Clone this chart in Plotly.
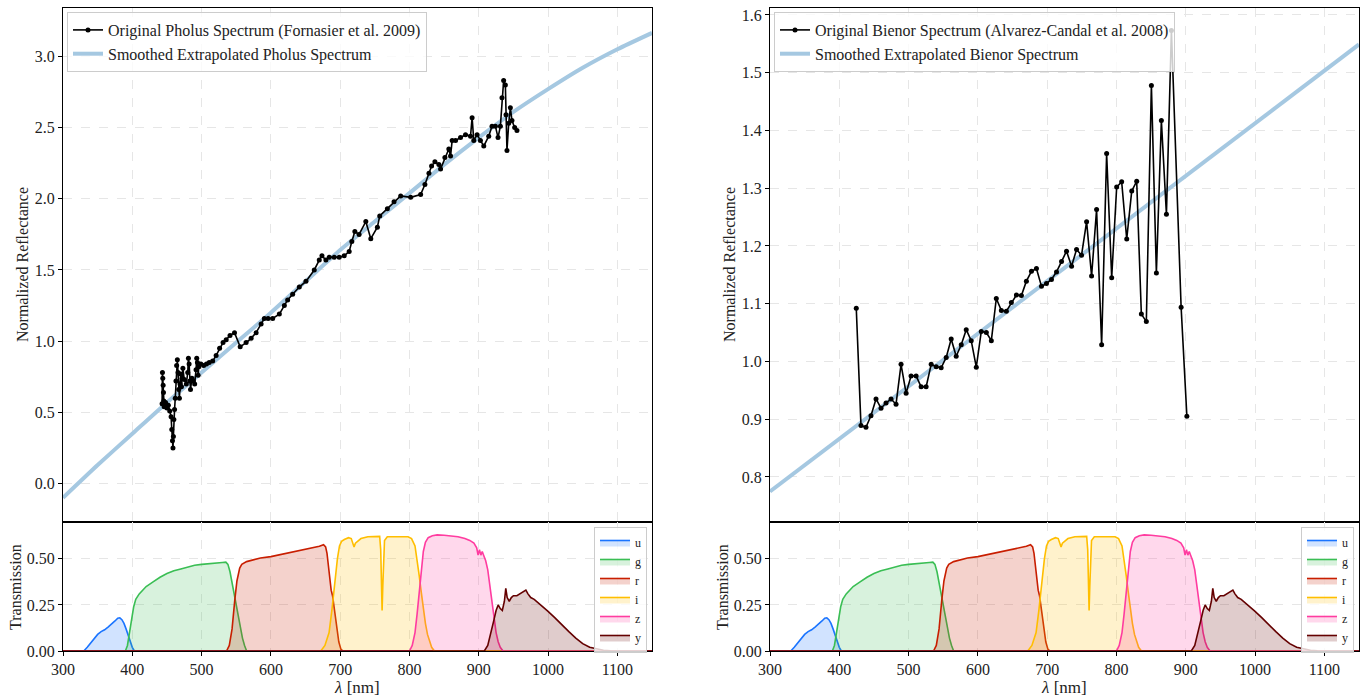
import plotly.graph_objects as go

W, H = 1369, 698

# ---------------- Pholus spectrum (Fornasier et al. 2009) ----------------
pholus_wl = [443.0, 443.5, 444.0, 444.5, 445.0, 445.5, 446.0, 448.0, 450.0, 452.0,
             454.0, 456.0, 457.0, 458.0, 458.7, 459.3, 460.0, 461.0, 462.0, 463.0,
             464.0, 465.0, 466.0, 467.0, 468.0, 469.0, 470.0, 471.0, 472.0, 473.0,
             475.0, 478.0, 480.0, 481.0, 482.0, 483.0, 484.0, 486.0, 488.0, 490.0,
             492.0, 493.0, 494.0, 495.0, 496.0, 499.0, 503.0, 507.0, 511.0, 516.0,
             521.0, 526.0, 531.0, 535.5, 541.0, 547.5, 555.7, 564.3, 571.5, 578.7,
             585.9, 590.6, 596.0, 602.6, 612.2, 619.4, 624.2, 631.4, 641.0, 650.6,
             662.6, 669.8, 673.7, 679.4, 684.2, 691.4, 698.6, 705.8, 713.0, 716.8,
             721.2, 727.3, 737.0, 744.2, 753.7, 757.1, 768.1, 777.7, 787.3, 801.7,
             816.1, 822.3, 828.1, 831.9, 836.7, 842.4, 844.9, 851.1, 856.8, 859.3,
             861.6, 866.5, 873.7, 880.9, 888.1, 890.4, 892.8, 897.6, 902.4, 907.2,
             914.4, 919.1, 924.0, 927.8, 931.2, 933.5, 935.9, 938.4, 939.3, 940.7,
             943.2, 945.6, 947.9, 951.8, 955.1]
pholus_refl = [0.56, 0.78, 0.74, 0.69, 0.64, 0.58, 0.54, 0.57, 0.53, 0.55,
               0.51, 0.47, 0.38, 0.30, 0.25, 0.33, 0.45, 0.52, 0.60, 0.72,
               0.83, 0.87, 0.78, 0.66, 0.60, 0.70, 0.77, 0.68, 0.74, 0.81,
               0.73, 0.70, 0.78, 0.88, 0.84, 0.72, 0.66, 0.74, 0.72, 0.70,
               0.80, 0.88, 0.85, 0.76, 0.82, 0.84, 0.83, 0.84, 0.85, 0.86,
               0.90, 0.95, 0.99, 1.01, 1.04, 1.06, 0.96, 0.99, 1.02, 1.06,
               1.12, 1.16, 1.16, 1.16, 1.19, 1.25, 1.29, 1.33, 1.38, 1.42,
               1.50, 1.57, 1.60, 1.57, 1.59, 1.59, 1.59, 1.60, 1.63, 1.70,
               1.77, 1.75, 1.84, 1.72, 1.80, 1.88, 1.93, 1.98, 2.02, 2.01,
               2.03, 2.10, 2.18, 2.23, 2.26, 2.24, 2.21, 2.29, 2.35, 2.30,
               2.41, 2.41, 2.43, 2.45, 2.44, 2.57, 2.41, 2.45, 2.41, 2.37,
               2.44, 2.51, 2.51, 2.43, 2.51, 2.71, 2.83, 2.80, 2.59, 2.34,
               2.53, 2.64, 2.55, 2.50, 2.48]
# smoothed spectrum with its extrapolated ends
pholus_smooth_wl = [300, 350, 400, 450, 500, 550, 600, 650, 700, 750, 800, 850, 900,
                    950, 1000, 1050, 1100, 1150]
pholus_smooth_refl = [-0.10, 0.13, 0.35, 0.57, 0.78, 0.99, 1.20, 1.42, 1.64, 1.84, 2.04,
                      2.24, 2.43, 2.61, 2.77, 2.92, 3.05, 3.165]

# ---------------- Bienor spectrum (Alvarez-Candal et al. 2008) ----------------
bienor_wl = [424.5, 431.3, 438.5, 445.7, 453.0, 460.2, 467.4, 474.7, 481.9, 489.1,
             496.4, 503.6, 510.9, 518.1, 525.3, 532.6, 539.8, 547.0, 554.3, 561.5,
             568.7, 576.0, 583.2, 590.4, 597.7, 604.9, 612.2, 619.4, 626.6, 633.9,
             641.1, 648.3, 655.6, 662.8, 670.0, 677.3, 684.5, 691.8, 699.0, 706.2,
             713.5, 720.7, 727.9, 735.2, 742.4, 749.6, 756.9, 764.1, 771.3, 778.6,
             785.8, 793.1, 800.3, 807.5, 814.8, 822.0, 829.2, 835.9, 843.1, 850.4,
             857.6, 864.8, 872.1, 879.3, 893.3, 901.6]
bienor_refl = [1.092, 0.889, 0.886, 0.906, 0.935, 0.919, 0.928, 0.935, 0.926, 0.995,
               0.945, 0.975, 0.975, 0.956, 0.956, 0.995, 0.991, 0.989, 1.007, 1.039,
               1.009, 1.029, 1.055, 1.036, 0.990, 1.052, 1.050, 1.036, 1.109, 1.088,
               1.087, 1.102, 1.115, 1.114, 1.139, 1.156, 1.161, 1.130, 1.135, 1.142,
               1.155, 1.173, 1.191, 1.165, 1.194, 1.184, 1.242, 1.148, 1.263, 1.029,
               1.360, 1.145, 1.302, 1.311, 1.212, 1.295, 1.312, 1.082, 1.069, 1.478,
               1.153, 1.417, 1.255, 1.573, 1.094, 0.905]
bienor_smooth_wl = [300, 1150]
bienor_smooth_refl = [0.775, 1.549]

# ---------------- LSST filter transmission curves ----------------
filter_names = ["u", "g", "r", "i", "z", "y"]
u_wl = [300, 330, 335, 340, 345, 350, 355, 360, 365, 370, 375, 379, 382, 385, 388,
        391, 394, 397, 400, 403, 1150]
u_t = [0, 0, 0.02, 0.045, 0.07, 0.09, 0.105, 0.115, 0.13, 0.145, 0.163, 0.178, 0.18,
       0.17, 0.15, 0.12, 0.085, 0.05, 0.02, 0.0, 0]
g_wl = [300, 390, 393, 396, 399, 402, 405, 410, 415, 420, 430, 440, 450, 460, 470,
        480, 490, 500, 510, 520, 530, 535, 538, 541, 544, 547, 550, 553, 556, 559,
        562, 565, 1150]
g_t = [0, 0, 0.03, 0.09, 0.17, 0.24, 0.28, 0.31, 0.33, 0.35, 0.375, 0.40, 0.42, 0.435,
       0.445, 0.455, 0.465, 0.47, 0.472, 0.476, 0.48, 0.482, 0.47, 0.43, 0.37, 0.30,
       0.23, 0.17, 0.12, 0.07, 0.03, 0.0, 0]
r_wl = [300, 536, 540, 544, 548, 551, 555, 558, 565, 575, 585, 600, 610, 620, 630,
        640, 650, 660, 670, 676, 679, 681, 683, 685, 687, 689, 691, 693, 695, 698,
        701, 704, 1150]
r_t = [0, 0, 0.03, 0.12, 0.28, 0.38, 0.45, 0.47, 0.485, 0.497, 0.505, 0.512, 0.52,
       0.527, 0.535, 0.543, 0.552, 0.56, 0.568, 0.577, 0.565, 0.53, 0.45, 0.37, 0.33,
       0.30, 0.24, 0.17, 0.11, 0.05, 0.01, 0.0, 0]
i_wl = [300, 672, 678, 684, 688, 692, 696, 699, 702, 706, 712, 716, 718, 720, 722,
        725, 730, 740, 750, 757, 758.5, 759.5, 760.5, 761.5, 762.5, 764, 768, 780,
        790, 798, 803, 808, 811, 814, 817, 820, 823, 826, 829, 832, 836, 1150]
i_t = [0, 0, 0.03, 0.10, 0.22, 0.38, 0.50, 0.57, 0.595, 0.605, 0.615, 0.61, 0.58,
       0.565, 0.585, 0.595, 0.61, 0.62, 0.622, 0.622, 0.55, 0.30, 0.22, 0.35, 0.50,
       0.60, 0.62, 0.622, 0.62, 0.62, 0.61, 0.57, 0.50, 0.41, 0.32, 0.23, 0.15, 0.09,
       0.05, 0.02, 0.0, 0]
z_wl = [300, 800, 804, 808, 811, 814, 817, 820, 823, 827, 833, 840, 850, 860, 870,
        880, 887, 893, 897, 899, 901, 903, 905, 907, 910, 913, 916, 919, 922, 925,
        928, 931, 935, 1150]
z_t = [0, 0, 0.03, 0.10, 0.20, 0.32, 0.44, 0.54, 0.59, 0.615, 0.625, 0.63, 0.628,
       0.625, 0.62, 0.61, 0.60, 0.585, 0.56, 0.52, 0.55, 0.52, 0.54, 0.52, 0.49, 0.44,
       0.36, 0.27, 0.18, 0.10, 0.05, 0.02, 0.0, 0]
y_wl = [300, 908, 913, 918, 922, 925, 928, 931, 934, 937, 939, 941, 944, 947, 950,
        955, 960, 965, 968, 971, 975, 980, 990, 1000, 1010, 1020, 1030, 1040, 1050,
        1060, 1070, 1080, 1090, 1100, 1150]
y_t = [0, 0, 0.03, 0.10, 0.17, 0.22, 0.25, 0.23, 0.22, 0.27, 0.34, 0.29, 0.27, 0.29,
       0.30, 0.30, 0.31, 0.32, 0.33, 0.31, 0.29, 0.28, 0.25, 0.215, 0.18, 0.14, 0.105,
       0.07, 0.04, 0.02, 0.01, 0.004, 0.001, 0.0, 0]
filter_curves = [(u_wl, u_t), (g_wl, g_t), (r_wl, r_t), (i_wl, i_t), (z_wl, z_t), (y_wl, y_t)]
filter_colors = [(26, 116, 255), (58, 190, 84), (200, 30, 0), (255, 190, 0),
                 (255, 60, 160), (100, 0, 0)]

wl_ticks = [300, 400, 500, 600, 700, 800, 900, 1000, 1100]
pholus_ticks = [0.0, 0.5, 1.0, 1.5, 2.0, 2.5, 3.0]
bienor_ticks = [0.8, 0.9, 1.0, 1.1, 1.2, 1.3, 1.4, 1.5, 1.6]
trans_ticks = [0.0, 0.25, 0.5]

FONT = "Liberation Serif"
SMOOTH_COLOR = "#a5c8e1"
GRID = "#e6e6e6"
TEXT = "#222"

fig = go.Figure()


def px_x(p):
    return p / W


def px_y(p):
    return 1 - p / H


panels = [
    dict(name="Pholus", ref="Fornasier et al. 2009", wl=pholus_wl, refl=pholus_refl,
         swl=pholus_smooth_wl, srefl=pholus_smooth_refl, xt="x", yt="y", xb="x2", yb="y2",
         leg_top="legend", leg_bot="legend2"),
    dict(name="Bienor", ref="Alvarez-Candal et al. 2008", wl=bienor_wl, refl=bienor_refl,
         swl=bienor_smooth_wl, srefl=bienor_smooth_refl, xt="x3", yt="y3", xb="x4", yb="y4",
         leg_top="legend3", leg_bot="legend4"),
]

for p in panels:
    fig.add_trace(go.Scatter(
        x=p["swl"], y=p["srefl"], mode="lines",
        line=dict(color=SMOOTH_COLOR, width=4, shape="spline", smoothing=0.6),
        name=f"Smoothed Extrapolated {p['name']} Spectrum",
        xaxis=p["xt"], yaxis=p["yt"], legend=p["leg_top"], legendrank=2))
    fig.add_trace(go.Scatter(
        x=p["wl"], y=p["refl"], mode="lines+markers",
        line=dict(color="black", width=1.6), marker=dict(color="black", size=5),
        name=f"Original {p['name']} Spectrum ({p['ref']})",
        xaxis=p["xt"], yaxis=p["yt"], legend=p["leg_top"], legendrank=1))
    for fname, (fw, ft), c in zip(filter_names, filter_curves, filter_colors):
        fig.add_trace(go.Scatter(
            x=fw, y=ft, mode="lines", fill="tozeroy",
            fillcolor=f"rgba({c[0]},{c[1]},{c[2]},0.2)",
            line=dict(color=f"rgb({c[0]},{c[1]},{c[2]})", width=1.6),
            name=fname, xaxis=p["xb"], yaxis=p["yb"], legend=p["leg_bot"]))

axis_common = dict(showline=True, mirror=True, linecolor="black", linewidth=1.3,
                   showgrid=True, gridcolor=GRID, griddash="dash", gridwidth=1,
                   zeroline=False, automargin=False,
                   tickfont=dict(family=FONT, size=16, color=TEXT))

top_dom = [px_y(522), px_y(8)]
bot_dom = [px_y(651), px_y(522)]
left_dom = [px_x(63), px_x(652)]
right_dom = [px_x(770), px_x(1359)]

layout_axes = {}
for idx, (xd, yr, yt_vals) in enumerate([
        (left_dom, [-0.27, 3.34], pholus_ticks),
        (right_dom, [0.722, 1.612], bienor_ticks)]):
    n_top = 1 + 2 * idx
    n_bot = 2 + 2 * idx
    s_top = "" if n_top == 1 else str(n_top)
    s_bot = str(n_bot)
    layout_axes[f"xaxis{s_top}"] = dict(
        axis_common, domain=xd, anchor=f"y{s_top}", range=[300, 1150],
        tickvals=wl_ticks, showticklabels=False, ticks="")
    layout_axes[f"yaxis{s_top}"] = dict(
        axis_common, domain=top_dom, anchor=f"x{s_top}", range=yr,
        tickvals=yt_vals, ticktext=[f"{v:.1f}" for v in yt_vals],
        ticks="outside", ticklen=4, tickcolor="black")
    layout_axes[f"xaxis{s_bot}"] = dict(
        axis_common, domain=xd, anchor=f"y{s_bot}", range=[300, 1150],
        tickvals=wl_ticks, ticktext=[str(v) for v in wl_ticks],
        ticks="outside", ticklen=4, tickcolor="black")
    layout_axes[f"yaxis{s_bot}"] = dict(
        axis_common, domain=bot_dom, anchor=f"x{s_bot}", range=[0, 0.70],
        tickvals=trans_ticks, ticktext=[f"{v:.2f}" for v in trans_ticks],
        ticks="outside", ticklen=4, tickcolor="black")

legend_top = dict(xanchor="left", yanchor="top", bgcolor="rgba(255,255,255,0.8)",
                  bordercolor="#cccccc", borderwidth=1, itemwidth=30,
                  font=dict(family=FONT, size=16, color=TEXT), tracegroupgap=0,
                  traceorder="normal")
legend_bot = dict(xanchor="right", yanchor="top", bgcolor="rgba(255,255,255,0.8)",
                  bordercolor="#cccccc", borderwidth=1, itemwidth=30,
                  font=dict(family=FONT, size=12, color=TEXT), tracegroupgap=0,
                  traceorder="normal")

annotations = []
for cx, cxl in [(22, 357), (729, 1064)]:
    annotations.append(dict(x=px_x(cx), y=px_y(265), xref="paper", yref="paper",
                            xanchor="center", yanchor="middle",
                            text="Normalized Reflectance", textangle=-90, showarrow=False,
                            font=dict(family=FONT, size=16, color=TEXT)))
    annotations.append(dict(x=px_x(cx - 7), y=px_y(587), xref="paper", yref="paper",
                            xanchor="center", yanchor="middle",
                            text="Transmission", textangle=-90, showarrow=False,
                            font=dict(family=FONT, size=16, color=TEXT)))
    annotations.append(dict(x=px_x(cxl), y=px_y(687), xref="paper", yref="paper",
                            xanchor="center", yanchor="middle",
                            text="<i>λ</i> [nm]", showarrow=False,
                            font=dict(family=FONT, size=17, color=TEXT)))

fig.update_layout(
    width=W, height=H, margin=dict(l=0, r=0, t=0, b=0, pad=0),
    paper_bgcolor="white", plot_bgcolor="white", showlegend=True,
    legend=dict(legend_top, x=px_x(67), y=px_y(12)),
    legend3=dict(legend_top, x=px_x(774), y=px_y(12)),
    legend2=dict(legend_bot, x=px_x(647), y=px_y(527)),
    legend4=dict(legend_bot, x=px_x(1354), y=px_y(527)),
    annotations=annotations,
    **layout_axes)

fig.write_html("out.html")
